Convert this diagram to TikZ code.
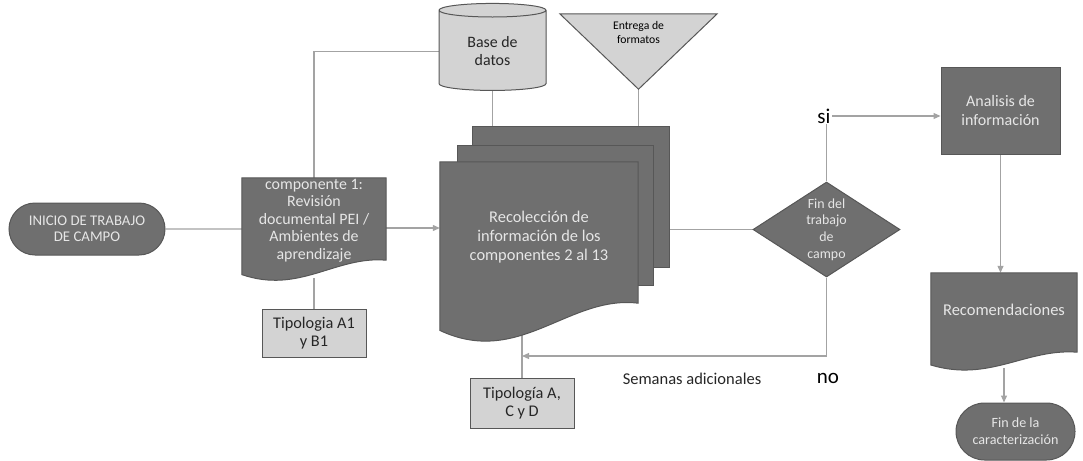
\documentclass[tikz,border=0pt]{standalone}
\usepackage{fontspec}
\setmainfont{Carlito}
\usetikzlibrary{calc, arrows.meta, shapes.geometric, shapes.misc}

\definecolor{darkfill}{HTML}{6F6F6F}
\definecolor{darkline}{HTML}{575757}
\definecolor{lightfill}{HTML}{D3D3D3}
\definecolor{linegray}{HTML}{A3A3A3}
\definecolor{paletext}{HTML}{E6E6E6}

\pgfdeclarelayer{lines}
\pgfdeclarelayer{shapes}
\pgfsetlayers{lines,shapes,main}

\newcommand\fs[2]{\fontsize{#1}{#2}\selectfont}
% document outline round a node, #2 = rise of the wave at the right end
\newcommand\docfill[2]{%
  \path[dark] (#1.north west) -- (#1.north east) -- ($(#1.south east)+(0,-#2)$)
     .. controls ($(#1.south east)!0.35!(#1.south west)+(0,-1.25*#2)$)
        and ($(#1.south west)!0.4!(#1.south east)+(0,0.9*#2)$)
     .. ($(#1.south west)+(0,-0.2*#2)$) -- cycle;}

\begin{document}
\begin{tikzpicture}[x=1pt, y=-1pt,
   dark/.style = {fill=darkfill, draw=darkline, line width=1pt, text=paletext, align=center, inner sep=2pt},
   light/.style = {fill=lightfill, draw=darkline, line width=1pt, text=black!85, align=center, inner sep=2pt},
   doc/.style = {align=center, text=paletext, inner sep=0pt},
   sheet/.style = {dark, minimum width=197pt, minimum height=141pt},
   flow/.style = {draw=linegray, line width=1.2pt},
   arr/.style = {flow, -{Triangle[length=7pt, width=6pt]}}]
   \useasboundingbox (0,0) rectangle (1083,460);

   \node[dark, rounded rectangle, minimum width=160pt, minimum height=52pt, font=\fs{14.8}{16.3}] (start) at (87,229) {INICIO DE TRABAJO\\DE CAMPO};
   \node[doc, minimum width=144pt, minimum height=100pt, text depth=18pt, font=\fs{15.9}{17.5}] (comp1) at (314,228) {componente 1:\\Revisión\\documental PEI /\\Ambientes de\\aprendizaje};
   \node[light, minimum width=104pt, minimum height=48pt, font=\fs{16.3}{18}] (tipo1) at (314,333) {Tipologia A1\\y B1};
   \node[light, cylinder, shape border rotate=90, aspect=0.25, minimum width=107pt, minimum height=87pt,
      cylinder uses custom fill, cylinder body fill=lightfill, cylinder end fill=lightfill, font=\fs{15.9}{18}] (db) at (492.5,51.5) {Base de\\datos};
   \node[align=center, minimum width=157pt, minimum height=75pt, text depth=39pt, font=\fs{11.7}{14}] (tri) at (638.5,51.5) {Entrega de\\formatos};
   \node[doc, minimum width=198pt, minimum height=175pt, text depth=27pt, font=\fs{16.4}{19}] (stack) at (539,249.5) {Recolección de\\información de los\\componentes 2 al 13};
   \node[light, minimum width=104pt, minimum height=50pt, font=\fs{16.3}{18}] (tipo2) at (522,403) {Tipología A,\\C y D};
   \node[dark, diamond, aspect=1.55, inner sep=0pt, minimum width=147pt, minimum height=95pt, font=\fs{13.9}{16.7}] (check) at (826.5,229.5) {Fin del\\trabajo\\de\\campo};
   \node[dark, minimum width=119pt, minimum height=87pt, font=\fs{16}{19}] (ana) at (1000.5,110.5) {Analisis de\\información};
   \node[doc, minimum width=146pt, minimum height=95pt, text depth=21pt, font=\fs{16.5}{19}] (reco) at (1004,320.5) {Recomendaciones};
   \node[dark, rounded rectangle, minimum width=123pt, minimum height=57pt, font=\fs{14.1}{16.7}] (end) at (1015.5,431.5) {Fin de la\\caracterización};

   % labels
   \node[fill=white, inner sep=1pt, font=\fs{21}{24}] (si) at (824,116) {si};
   \node[font=\fs{21}{24}] (no) at (828,378) {no};
   \node[text=black!85, font=\fs{16.5}{19}] (sem) at (692,379) {Semanas adicionales};
   \coordinate (loop) at (tipo2.north |- 0,356);

   \begin{pgfonlayer}{shapes}
   \node[sheet] (sheet3) at (570.5,196.5) {};
   \node[sheet, minimum width=196pt, minimum height=140pt] (sheet2) at (555,215) {};
   \docfill{stack}{34}
   \docfill{comp1}{18}
   \docfill{reco}{16}
   \path[light] (tri.north west) -- (tri.north east) -- (tri.south) -- cycle;
   \end{pgfonlayer}

   \begin{pgfonlayer}{lines}
   \draw[flow] (start) -- (start -| comp1);
   \draw[flow] (comp1) |- (db);
   \draw[flow] (comp1) -- (tipo1);
   \draw[arr] (comp1) -- (comp1 -| stack.west);
   \draw[flow] (db) -- (db |- sheet3.north);
   \draw[flow] (tri.south) -- (tri.south |- sheet3.north);
   \draw[flow] (check) -- (check -| sheet3.east);
   \draw[arr] (check) |- (si -| ana.west);
   \draw[arr] (check) |- (loop);
   \draw[flow] (tipo2) -- (tipo2 |- stack);
   \draw[arr] (ana) -- (ana |- reco.north);
   \draw[arr] (reco) -- (reco |- end.north);
   \end{pgfonlayer}
\end{tikzpicture}
\end{document}
